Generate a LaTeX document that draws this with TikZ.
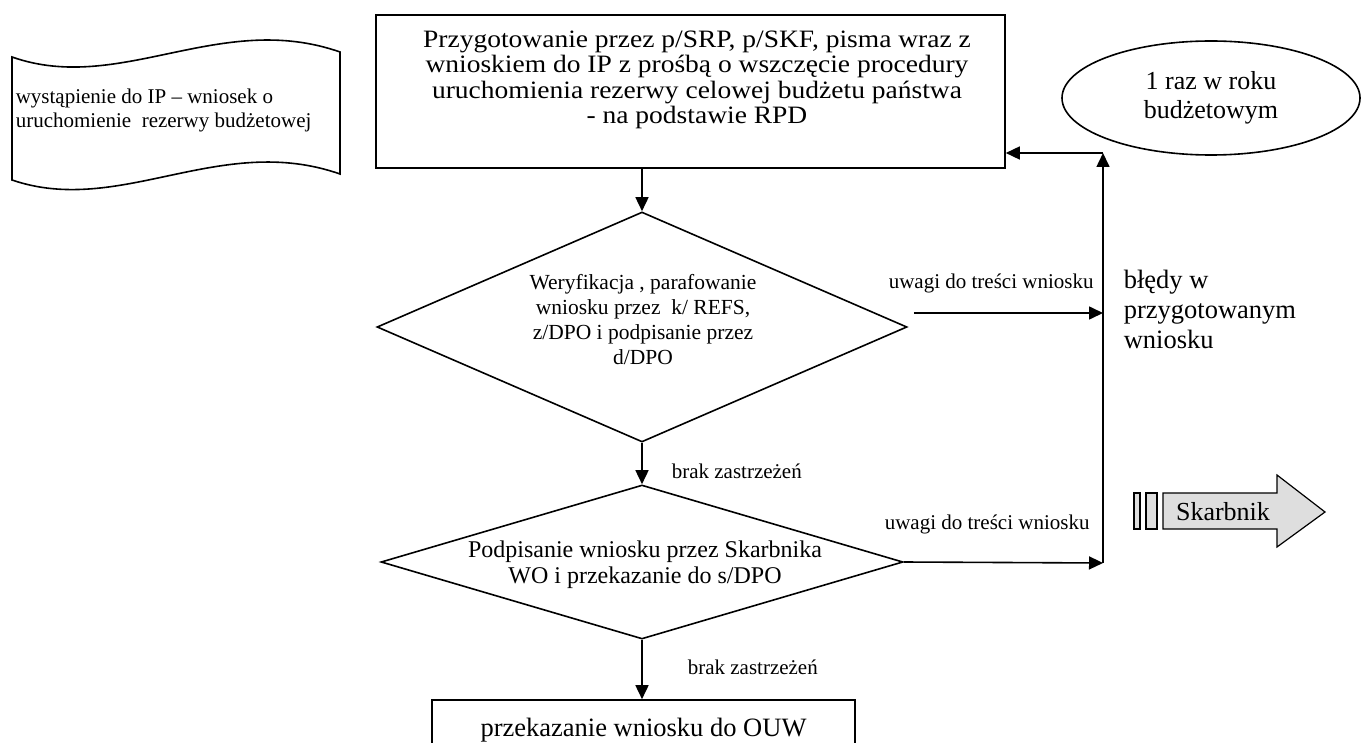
\documentclass[tikz,border=0pt]{standalone}
\usepackage{fontspec}
\setmainfont{Liberation Serif}
\newfontfamily\widefont{Liberation Serif}[FakeStretch=1.1]
\usetikzlibrary{arrows.meta,shapes.geometric}

\newcommand{\fsz}[2]{\fontsize{#1}{#2}\selectfont}

\begin{document}
\begin{tikzpicture}[x=1pt,y=-1pt,
  line width=1.6pt,
  flow/.style={-{Triangle[length=14pt,width=13pt]}},
  box/.style={draw,rectangle,inner sep=0pt},
  decision/.style={draw,diamond,inner sep=0pt},
  txt/.style={inner sep=0pt,align=center},
  lbl/.style={inner sep=0pt,anchor=west,font=\fsz{21}{24}},
]
\useasboundingbox (0,0) rectangle (1362,743);
\clip (0,0) rectangle (1362,743);

% document symbol on the left
\draw (12,57) .. controls (120,95) and (220,10) .. (340,52)
  -- (340,174) .. controls (220,132) and (120,217) .. (12,180) -- cycle;
\node[txt,anchor=west,align=left,font=\fsz{21}{24}] (doc) at (15,110)
  {wystąpienie do IP – wniosek o\\uruchomienie\ \ rezerwy budżetowej};

% main process boxes
\node[box,minimum width=629,minimum height=153] (top) at (690.5,91.5) {};
\node[txt,font=\widefont\fsz{25}{25.5}] (toptext) at (697,80)
  {Przygotowanie przez p/SRP, p/SKF, pisma wraz z\\
   wnioskiem do IP z prośbą o wszczęcie procedury\\
   uruchomienia rezerwy celowej budżetu państwa\\
   - na podstawie RPD};

\node[decision,minimum width=530,minimum height=230] (d1) at (642,327) {};
\node[txt,font=\fsz{21.5}{25}] (d1text) at (643,320)
  {Weryfikacja , parafowanie\\wniosku przez\ \ k/ REFS,\\z/DPO i podpisanie przez\\d/DPO};

\node[decision,minimum width=522,minimum height=154] (d2) at (642,562) {};
\node[txt,font=\fsz{24}{26}] (d2text) at (645,565)
  {Podpisanie wniosku przez Skarbnika\\WO i przekazanie do s/DPO};

\node[box,minimum width=423,minimum height=60,font=\fsz{26.5}{28}] (ouw) at (643.5,730)
  {przekazanie wniosku do OUW};

% side notes
\node[draw,ellipse,inner sep=0pt,minimum width=298,minimum height=114,
      align=center,font=\fsz{26}{29}] (year) at (1211,98)
  {1 raz w roku\\budżetowym};
\node[txt,anchor=west,align=left,font=\fsz{26.5}{30}] (err) at (1123,309)
  {błędy w\\przygotowanym\\wniosku};

% return line
\coordinate (j1) at (1103,313);
\coordinate (j2) at (1103,563);
\coordinate (jt) at (1103,153);

% connectors
\draw[flow] (d1.north |- top.south) -- (d1.north);
\draw[flow] (d1.south) -- (d2.north);
\draw[flow] (d2.south) -- (d2.south |- ouw.north);
\draw[flow] ([shift={(6,-14)}]d1.east) -- (j1);
\draw[flow] (d2.east) -- (j2);
\draw[flow] (j2) -- (jt);
\draw[flow] (jt) -- (jt -| top.east);

% connector labels
\node[lbl] (ok1) at (671,471) {brak zastrzeżeń};
\node[lbl] (ok2) at (687,667) {brak zastrzeżeń};
\node[lbl] (rem1) at (888,283) {uwagi do treści wniosku};
\node[lbl] (rem2) at (884,524) {uwagi do treści wniosku};

% role marker
\begin{scope}[line width=1.2pt,fill=black!13]
  \filldraw (1134,493) rectangle (1140,529);
  \filldraw (1146,493) rectangle (1157,529);
  \filldraw (1163,493) -- (1277,493) -- (1277,475) -- (1325,512)
    -- (1277,547) -- (1277,529) -- (1163,529) -- cycle;
\end{scope}
\node[txt,font=\fsz{26}{28}] (role) at (1223,512) {Skarbnik};
\end{tikzpicture}
\end{document}
